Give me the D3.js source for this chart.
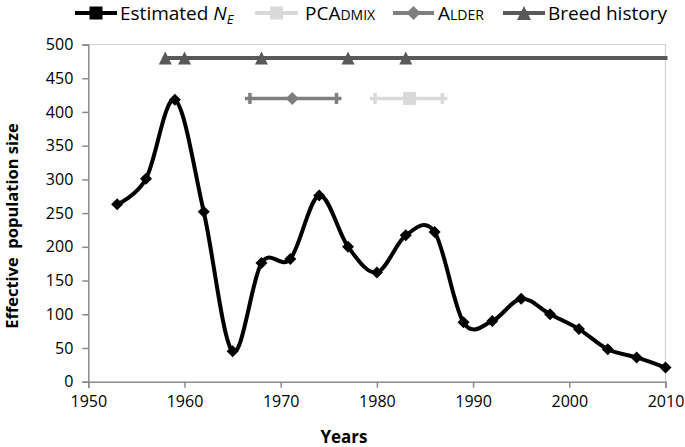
<!DOCTYPE html>
<html>
<head>
<meta charset="utf-8">
<script src="https://cdn.jsdelivr.net/npm/d3@7"></script>
<style>
  body { margin: 0; background: #fff; }
  svg { display: block; font-family: "Open Sans", sans-serif; }
</style>
</head>
<body>
<svg id="chart" width="685" height="447"></svg>
<script>
// estimated effective population size per year
const years = [1953, 1956, 1959, 1962, 1965, 1968, 1971, 1974, 1977, 1980,
  1983, 1986, 1989, 1992, 1995, 1998, 2001, 2004, 2007, 2010];
const neValues = [263, 301, 418, 252, 45, 176, 182, 276, 200, 162,
  217, 222, 88, 90, 123, 100, 78, 48, 36, 21];

// breed history events
const breedYears = [1958, 1960, 1968, 1977, 1983];
const breedLevel = 480;
const breedEnd = 2010;

// admixture date estimates: [low, estimate, high]
const alder = [1966.8, 1971.2, 1975.8];
const pcadmix = [1979.8, 1983.4, 1986.8];
const admixLevel = 420;

const xTicks = [1950, 1960, 1970, 1980, 1990, 2000, 2010];
const yTicks = [0, 50, 100, 150, 200, 250, 300, 350, 400, 450, 500];

const colors = { ne: '#000000', pcadmix: '#d9d9d9', alder: '#7f7f7f', breed: '#595959' };

const svg = d3.select('#chart');
const x = d3.scaleLinear().domain([1950, 2010]).range([88.3, 665.5]);
const y = d3.scaleLinear().domain([0, 500]).range([381.7, 44.5]);

// plot frame (light top/right border)
svg.append('path')
  .attr('d', `M${x(1950)},${y(500)}H${x(2010)}V${y(0)}`)
  .attr('fill', 'none')
  .attr('stroke', '#d0d0d0')
  .attr('stroke-width', 1.2);

// axes
const xAxis = svg.append('g')
  .attr('transform', `translate(0,${y(0)})`)
  .call(d3.axisBottom(x).tickValues(xTicks).tickFormat(d3.format('d')).tickSize(6).tickPadding(8));
const yAxis = svg.append('g')
  .attr('transform', `translate(${x(1950)},0)`)
  .call(d3.axisLeft(y).tickValues(yTicks).tickSize(6).tickPadding(9));
[xAxis, yAxis].forEach((g) => {
  g.select('.domain').attr('stroke', '#8a8a8a').attr('stroke-width', 1.5);
  g.selectAll('.tick line').attr('stroke', '#8a8a8a').attr('stroke-width', 1.5);
  g.selectAll('.tick text').attr('fill', '#000').attr('font-size', 16).attr('font-family', '"Open Sans", sans-serif');
});

// axis titles
svg.append('text')
  .attr('x', 344).attr('y', 443)
  .attr('text-anchor', 'middle')
  .attr('font-weight', 'bold').attr('font-size', 17)
  .text('Years');
svg.append('text')
  .attr('transform', 'translate(18,226) rotate(-90)')
  .attr('text-anchor', 'middle')
  .attr('font-weight', 'bold').attr('font-size', 16.5)
  .style('white-space', 'pre')
  .text('Effective  population size');

// marker shapes
const diamond = (r) => `M0,${-r}L${r},0L0,${r}L${-r},0Z`;
const square = (r) => `M${-r},${-r}H${r}V${r}H${-r}Z`;
const triangle = (r) => `M0,${-r}L${r},${r}H${-r}Z`;

// breed history line
svg.append('line')
  .attr('x1', x(breedYears[0])).attr('x2', x(breedEnd))
  .attr('y1', y(breedLevel)).attr('y2', y(breedLevel))
  .attr('stroke', colors.breed).attr('stroke-width', 4)
  .attr('stroke-linecap', 'square');
svg.append('g').selectAll('path')
  .data(breedYears)
  .join('path')
  .attr('transform', (d) => `translate(${x(d)},${y(breedLevel)})`)
  .attr('d', triangle(6.5))
  .attr('fill', colors.breed);

// admixture estimates with error bars
function drawRange(vals, color, shape) {
  const g = svg.append('g');
  const yy = y(admixLevel);
  g.append('line')
    .attr('x1', x(vals[0]) - 5).attr('x2', x(vals[2]) + 5)
    .attr('y1', yy).attr('y2', yy)
    .attr('stroke', color).attr('stroke-width', 3.5);
  g.selectAll('line.cap')
    .data([vals[0], vals[2]])
    .join('line')
    .attr('class', 'cap')
    .attr('x1', (d) => x(d)).attr('x2', (d) => x(d))
    .attr('y1', yy - 5.5).attr('y2', yy + 5.5)
    .attr('stroke', color).attr('stroke-width', 3.5);
  g.append('path')
    .attr('transform', `translate(${x(vals[1])},${yy})`)
    .attr('d', shape)
    .attr('fill', color);
}
drawRange(alder, colors.alder, diamond(6.5));
drawRange(pcadmix, colors.pcadmix, square(6.5));

// estimated Ne smoothed line
const neData = years.map((yr, i) => ({ yr, v: neValues[i] }));
const line = d3.line()
  .curve(d3.curveCardinal.tension(0))
  .x((d) => x(d.yr))
  .y((d) => y(d.v));
svg.append('path')
  .datum(neData)
  .attr('d', line)
  .attr('fill', 'none')
  .attr('stroke', colors.ne)
  .attr('stroke-width', 4);
svg.append('g').selectAll('path')
  .data(neData)
  .join('path')
  .attr('transform', (d) => `translate(${x(d.yr)},${y(d.v)})`)
  .attr('d', diamond(6))
  .attr('fill', colors.ne);

// legend
const legendItems = [
  { key: 'ne', x0: 75, x1: 117, shape: square(6.5), textX: 120 },
  { key: 'pcadmix', x0: 255, x1: 298, shape: square(6.5), textX: 305 },
  { key: 'alder', x0: 393, x1: 434, shape: diamond(7), textX: 438 },
  { key: 'breed', x0: 503, x1: 545, shape: triangle(7), textX: 548 },
];
const ly = 13;
const legend = svg.append('g');
legendItems.forEach((it) => {
  legend.append('line')
    .attr('x1', it.x0).attr('x2', it.x1)
    .attr('y1', ly).attr('y2', ly)
    .attr('stroke', colors[it.key]).attr('stroke-width', 4);
  legend.append('path')
    .attr('transform', `translate(${(it.x0 + it.x1) / 2},${ly})`)
    .attr('d', it.shape)
    .attr('fill', colors[it.key]);
});
const lt = (xx) => legend.append('text').attr('x', xx).attr('y', 20).attr('font-size', 19);
const t1 = lt(legendItems[0].textX);
t1.append('tspan').text('Estimated ');
t1.append('tspan').attr('font-style', 'italic').text('N');
t1.append('tspan').attr('font-style', 'italic').attr('font-size', 13).attr('dy', 4).text('E');
const t2 = lt(legendItems[1].textX);
t2.append('tspan').text('PCA');
t2.append('tspan').attr('font-size', 14).text('DMIX');
const t3 = lt(legendItems[2].textX);
t3.append('tspan').text('A');
t3.append('tspan').attr('font-size', 14).text('LDER');
lt(legendItems[3].textX).text('Breed history');
</script>
</body>
</html>
